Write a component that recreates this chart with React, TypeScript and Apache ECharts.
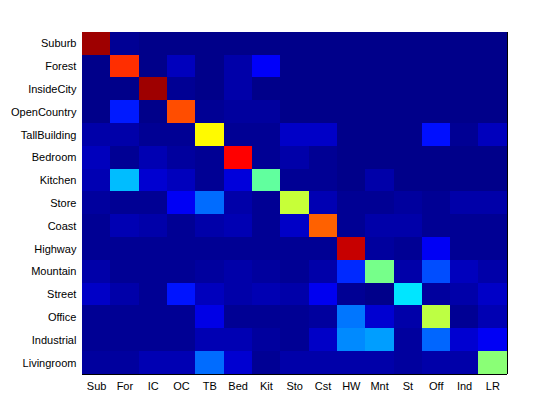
import React, { useEffect, useRef } from "react";
import * as echarts from "echarts";

const rowLabels = [
  "Suburb", "Forest", "InsideCity", "OpenCountry", "TallBuilding", "Bedroom", "Kitchen",
  "Store", "Coast", "Highway", "Mountain", "Street", "Office", "Industrial", "Livingroom",
];
const colLabels = ["Sub", "For", "IC", "OC", "TB", "Bed", "Kit", "Sto", "Cst", "HW", "Mnt", "St", "Off", "Ind", "LR"];

const rowSuburb = [0.97, 0.02, 0.01, 0.01, 0.01, 0.01, 0.01, 0.01, 0.01, 0.01, 0.01, 0.01, 0.01, 0.01, 0.01];
const rowForest = [0.01, 0.83, 0.01, 0.06, 0.01, 0.04, 0.12, 0.01, 0.01, 0.01, 0.01, 0.01, 0.01, 0.01, 0.01];
const rowInsideCity = [0.01, 0.01, 0.97, 0.02, 0.01, 0.04, 0.01, 0.01, 0.01, 0.01, 0.01, 0.01, 0.01, 0.01, 0.01];
const rowOpenCountry = [0.01, 0.15, 0.01, 0.8, 0.02, 0.03, 0.03, 0.01, 0.01, 0.01, 0.01, 0.01, 0.01, 0.01, 0.01];
const rowTallBuilding = [0.04, 0.04, 0.02, 0.02, 0.63, 0.02, 0.02, 0.07, 0.07, 0.01, 0.01, 0.01, 0.14, 0.02, 0.06];
const rowBedroom = [0.06, 0.02, 0.05, 0.03, 0.02, 0.875, 0.02, 0.04, 0.02, 0.01, 0.01, 0.01, 0.01, 0.01, 0.01];
const rowKitchen = [0.05, 0.31, 0.08, 0.06, 0.02, 0.09, 0.47, 0.02, 0.02, 0.01, 0.04, 0.01, 0.01, 0.01, 0.01];
const rowStore = [0.03, 0.02, 0.02, 0.115, 0.23, 0.04, 0.02, 0.57, 0.05, 0.02, 0.02, 0.03, 0.02, 0.04, 0.04];
const rowCoast = [0.02, 0.05, 0.04, 0.02, 0.04, 0.05, 0.02, 0.07, 0.78, 0.02, 0.04, 0.04, 0.02, 0.02, 0.02];
const rowHighway = [0.02, 0.02, 0.02, 0.02, 0.02, 0.02, 0.02, 0.02, 0.02, 0.93, 0.03, 0.02, 0.115, 0.02, 0.02];
const rowMountain = [0.04, 0.02, 0.02, 0.02, 0.03, 0.04, 0.03, 0.02, 0.04, 0.165, 0.49, 0.04, 0.2, 0.06, 0.04];
const rowStreet = [0.07, 0.04, 0.02, 0.145, 0.06, 0.04, 0.05, 0.04, 0.11, 0.02, 0.01, 0.35, 0.03, 0.04, 0.07];
const rowOffice = [0.02, 0.02, 0.02, 0.02, 0.1, 0.02, 0.02, 0.02, 0.03, 0.24, 0.08, 0.04, 0.56, 0.02, 0.05];
const rowIndustrial = [0.02, 0.02, 0.02, 0.02, 0.05, 0.05, 0.03, 0.02, 0.07, 0.26, 0.28, 0.03, 0.225, 0.08, 0.115];
const rowLivingroom = [0.03, 0.03, 0.05, 0.05, 0.23, 0.08, 0.02, 0.04, 0.04, 0.04, 0.04, 0.03, 0.04, 0.04, 0.51];

const matrix = [
  rowSuburb, rowForest, rowInsideCity, rowOpenCountry, rowTallBuilding, rowBedroom, rowKitchen,
  rowStore, rowCoast, rowHighway, rowMountain, rowStreet, rowOffice, rowIndustrial, rowLivingroom,
];

const jet = ["#000080", "#0000ff", "#0080ff", "#00ffff", "#80ff80", "#ffff00", "#ff8000", "#ff0000", "#800000"];

export default function App() {
  const ref = useRef<HTMLDivElement>(null);
  useEffect(() => {
    if (!ref.current) return;
    const chart = echarts.init(ref.current, null, { renderer: "svg" });
    const data: number[][] = [];
    matrix.forEach((row, r) => row.forEach((v, c) => data.push([c, r, v])));
    const font = "Liberation Sans";
    const axisLine = { show: true, onZero: false, lineStyle: { color: "#000", width: 1 } };
    const tick = { show: true, inside: true, length: 4, alignWithLabel: true, lineStyle: { color: "#000" } };
    chart.setOption({
      animation: false,
      backgroundColor: "#fff",
      grid: { left: 65, right: 45, top: 24, bottom: 38, containLabel: false },
      xAxis: [
        {
          type: "category", data: colLabels, position: "bottom",
          axisLine, axisTick: tick, splitLine: { show: false },
          axisLabel: { color: "#000", fontFamily: font, fontSize: 11, margin: 6, interval: 0 },
        },
        {
          type: "category", data: colLabels, position: "top",
          axisLine, axisTick: tick, splitLine: { show: false }, axisLabel: { show: false },
        },
      ],
      yAxis: [
        {
          type: "category", data: rowLabels, inverse: true, position: "left",
          axisLine, axisTick: tick, splitLine: { show: false },
          axisLabel: { color: "#000", fontFamily: font, fontSize: 11, margin: 6, interval: 0 },
        },
        {
          type: "category", data: rowLabels, inverse: true, position: "right",
          axisLine, axisTick: tick, splitLine: { show: false }, axisLabel: { show: false },
        },
      ],
      visualMap: { show: false, min: 0, max: 1, dimension: 2, inRange: { color: jet } },
      series: [
        {
          type: "heatmap",
          data,
          z: 1,
          itemStyle: { borderWidth: 0 },
          emphasis: { disabled: true },
          label: { show: false },
        },
      ],
    });
    return () => chart.dispose();
  }, []);
  return (
    <>
      <style>{`#cm-chart svg path { shape-rendering: crispEdges; }`}</style>
      <div id="cm-chart" ref={ref} style={{ width: 544, height: 404 }} />
    </>
  );
}
